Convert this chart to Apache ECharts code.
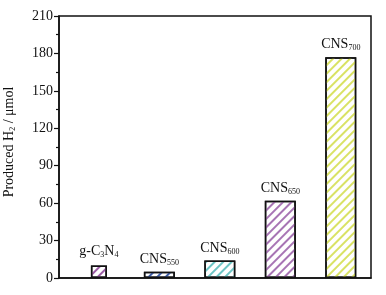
<!DOCTYPE html>
<html><head><meta charset="utf-8">
<script src="https://cdn.jsdelivr.net/npm/echarts@6/dist/echarts.min.js"></script>
<style>html,body{margin:0;padding:0;background:#fff}#c{width:386px;height:295px}</style>
</head><body><div id="c"></div>
<script>
var categories = ['g-C3N4', 'CNS550', 'CNS600', 'CNS650', 'CNS700'];
var labels = ['{a|g-C}{b|3}{a|N}{b|4}', '{a|CNS}{b|550}', '{a|CNS}{b|600}', '{a|CNS}{b|650}', '{a|CNS}{b|700}'];
var values = [10, 5, 14, 62, 177];
var stripeColors = ['#9c5ea6', '#3f5ea8', '#6cc4c4', '#a774b4', '#d9e264'];
var yTicks = [0, 30, 60, 90, 120, 150, 180, 210];

var font = '"Liberation Serif", "Times New Roman", serif';
var rich = {
  a: {fontFamily: font, fontSize: 14, color: '#111', lineHeight: 15},
  b: {fontFamily: font, fontSize: 8, color: '#111', lineHeight: 7, verticalAlign: 'bottom'}
};
function item(i) {
  return {
    value: [i, values[i]],
    label: {formatter: labels[i]},
    itemStyle: {
      color: '#fff', borderColor: '#111', borderWidth: 1.5,
      decal: {symbol: 'rect', symbolSize: 1, color: stripeColors[i], dashArrayX: [1, 0], dashArrayY: [2, 3.5], rotation: -Math.PI / 4}
    }
  };
}
var narrow = [item(0)];
var wide = [];
for (var i = 1; i < categories.length; i++) wide.push(item(i));

var chart = echarts.init(document.getElementById('c'));
var xBase = {type: 'value', min: -0.66, max: 4.5, axisLabel: {show: false}, axisTick: {show: false}, splitLine: {show: false}};
chart.setOption({
  animation: false,
  grid: {left: 59, right: 15, top: 16, bottom: 17, outerBoundsMode: 'none', containLabel: false, show: true, borderColor: '#111', borderWidth: 1.5, backgroundColor: 'transparent'},
  xAxis: [
    Object.assign({}, xBase, {axisLine: {show: true, onZero: false, lineStyle: {color: '#111', width: 1.5}}}),
    Object.assign({}, xBase, {show: false})
  ],
  yAxis: {
    type: 'value', min: yTicks[0], max: yTicks[yTicks.length - 1], interval: 30,
    name: 'Produced H{s|2} / μmol', nameLocation: 'middle', nameGap: 42, nameRotate: 90,
    nameTextStyle: {fontFamily: font, fontSize: 14, color: '#111', lineHeight: 15, padding: [0, 0, 0, 10], rich: {s: {fontFamily: font, fontSize: 8, color: '#111', verticalAlign: 'bottom', lineHeight: 7}}},
    axisLine: {show: true, onZero: false, lineStyle: {color: '#111', width: 1.5}},
    axisTick: {show: true, length: 5, lineStyle: {color: '#111', width: 1.2}},
    minorTick: {show: true, splitNumber: 2, length: 3, lineStyle: {color: '#111', width: 1.2}},
    axisLabel: {fontFamily: font, fontSize: 14, color: '#111', margin: 6},
    splitLine: {show: false}
  },
  series: [
    {type: 'bar', xAxisIndex: 1, barWidth: 16, data: narrow,
     label: {show: true, position: 'top', distance: 7, rich: rich}},
    {type: 'bar', xAxisIndex: 0, barWidth: 31, data: wide,
     label: {show: true, position: 'top', distance: 5, rich: rich}}
  ]
});
</script></body></html>
